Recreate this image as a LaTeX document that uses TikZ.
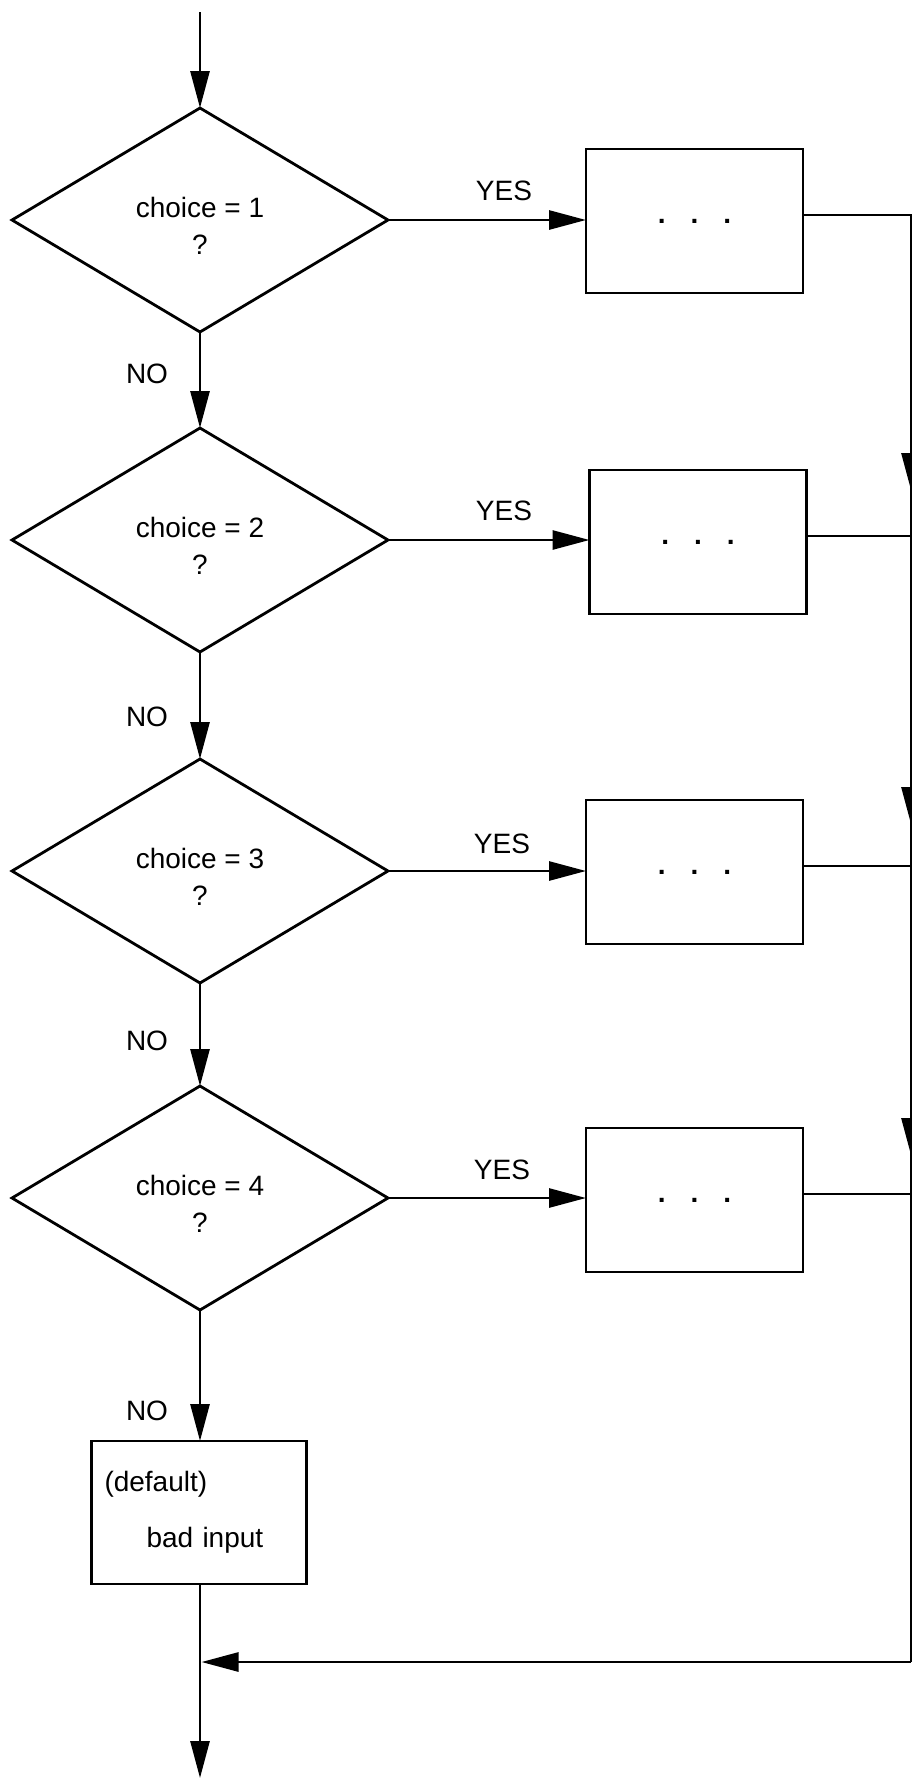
\documentclass[tikz,border=0pt]{standalone}
\usepackage{fontspec}
\setmainfont{Liberation Sans}
\usetikzlibrary{shapes.geometric,arrows.meta,calc}
\newcommand\threedots{{\bfseries .\hspace{25pt}.\hspace{25pt}.}}
\newcommand\dstrut{\rule{0pt}{32pt}}
\begin{document}
\begin{tikzpicture}[x=1pt,y=-1pt,
  line width=2.8pt,
  dia/.style={diamond, draw, minimum width=376pt, minimum height=224pt, inner sep=0pt, outer sep=0pt, align=center, font=\fontsize{28}{37}\selectfont},
  procbox/.style={rectangle, draw, minimum width=217pt, minimum height=144pt, inner sep=0pt, outer sep=0pt, font=\fontsize{28}{37}\selectfont},
  lbl/.style={font=\fontsize{28}{30}\selectfont, inner sep=0pt},
  arr/.style={-{Triangle[length=37pt,width=19pt]}}]
\useasboundingbox (0,0) rectangle (911,1778);

% decisions
\node[dia] (d1) at (200,220) {\dstrut choice = 1\\?};
\node[dia] (d2) at (200,540) {\dstrut choice = 2\\?};
\node[dia] (d3) at (200,871) {\dstrut choice = 3\\?};
\node[dia] (d4) at (200,1198) {\dstrut choice = 4\\?};

% process boxes
\node[procbox] (b1) at (694.5,221) {\threedots};
\node[procbox] (b2) at (698,542) {\threedots};
\node[procbox] (b3) at (694.5,872) {\threedots};
\node[procbox] (b4) at (694.5,1200) {\threedots};

% default box
\node[procbox, minimum width=215pt, minimum height=143pt, text width=189pt, inner xsep=13pt, align=left] (df) at (199,1512.5) {(default)\\[19pt]\hspace*{42pt}bad input};

% labels
\node[lbl] (y1) at ([xshift=116pt,yshift=29pt]d1.east) {YES};
\node[lbl] (y2) at ([xshift=116pt,yshift=29pt]d2.east) {YES};
\node[lbl] (y3) at ([xshift=114pt,yshift=27pt]d3.east) {YES};
\node[lbl] (y4) at ([xshift=114pt,yshift=28pt]d4.east) {YES};
\node[lbl] (n1) at (147,374) {NO};
\node[lbl] (n2) at (147,717) {NO};
\node[lbl] (n3) at (147,1041) {NO};
\node[lbl] (n4) at (147,1411) {NO};

% coordinates
\coordinate (top) at (200,12);
\coordinate (rtop) at (911,215);
\coordinate (rbot) at (911,1662);
\coordinate (mrg) at (201.5,1662);
\coordinate (bot) at (200,1778);
\coordinate (a1s) at (911,440);
\coordinate (a1e) at (911,490);
\coordinate (a2s) at (911,775);
\coordinate (a2e) at (911,824);
\coordinate (a3s) at (911,1105);
\coordinate (a3e) at (911,1155);

% main column
\draw[arr] (top) -- (d1.north);
\draw[arr] (d1.south) -- (d2.north);
\draw[arr] (d2.south) -- (d3.north);
\draw[arr] (d3.south) -- (d4.north);
\draw[arr] (d4.south) -- (d4.south |- df.north);
\draw[arr] (df.south -| d4.south) -- (bot);

% YES branches
\draw[arr] (d1.east) -- (d1.east -| b1.west);
\draw[arr] (d2.east) -- (d2.east -| b2.west);
\draw[arr] (d3.east) -- (d3.east -| b3.west);
\draw[arr] (d4.east) -- (d4.east -| b4.west);

% outputs to right bus
\draw ([yshift=6pt]b1.east) -- (rtop) -- (rbot);
\draw ([yshift=6pt]b2.east) -- ([yshift=6pt]b2.east -| rtop);
\draw ([yshift=6pt]b3.east) -- ([yshift=6pt]b3.east -| rtop);
\draw ([yshift=6pt]b4.east) -- ([yshift=6pt]b4.east -| rtop);
\draw[arr] (a1s) -- (a1e);
\draw[arr] (a2s) -- (a2e);
\draw[arr] (a3s) -- (a3e);
\draw[arr] (rbot) -- (mrg);
\end{tikzpicture}
\end{document}
